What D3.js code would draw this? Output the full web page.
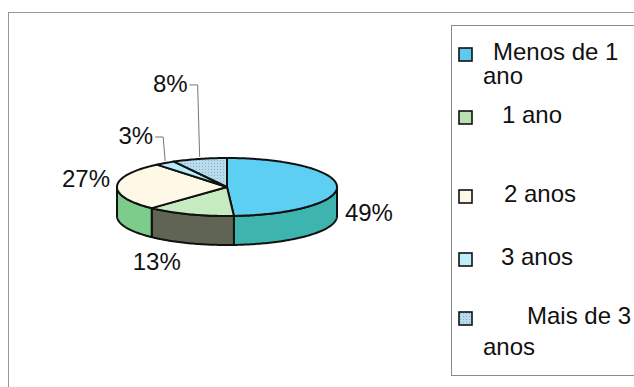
<!DOCTYPE html>
<html>
<head>
<meta charset="utf-8">
<script src="https://cdn.jsdelivr.net/npm/d3@7"></script>
<style>
  html, body { margin: 0; padding: 0; background: #fff; }
  svg { display: block; font-family: "Liberation Sans", Arial, sans-serif; }
</style>
</head>
<body>
<svg id="chart" width="634" height="387"></svg>
<script>
// Tempo de serviço: share of respondents per category
const categories = ["Menos de 1 ano", "1 ano", "2 anos", "3 anos", "Mais de 3 anos"];
const shares = [49, 13, 27, 3, 8];
const shareLabels = ["49%", "13%", "27%", "3%", "8%"];
const topColors = ["#5ccff2", "#c6ebc0", "#fdf9e6", "#b5eefa", "url(#dots)"];
const sideColors = ["#3db5ae", "#5f6552", "#7dcc8c", "#8fd6e6", "#8ab8d0"];
const swatchColors = ["#5ccaf0", "#b9e0b0", "#fdf8e8", "#bdeefa", "url(#dots)"];

const W = 634, H = 387;
const svg = d3.select("#chart");

// dotted fill used by the last category
const defs = svg.append("defs");
const pat = defs.append("pattern").attr("id", "dots")
  .attr("width", 3).attr("height", 3).attr("patternUnits", "userSpaceOnUse");
pat.append("rect").attr("width", 3).attr("height", 3).attr("fill", "#b8dcec");
pat.append("rect").attr("x", 1).attr("y", 1).attr("width", 1).attr("height", 1).attr("fill", "#86b2cc");

// chart area frame and legend frame
svg.append("rect").attr("x", 8.5).attr("y", 12.5).attr("width", W).attr("height", H)
  .attr("fill", "none").attr("stroke", "#9a9a9a").attr("stroke-width", 1);
svg.append("rect").attr("x", 451.5).attr("y", 25.5).attr("width", W).attr("height", 350)
  .attr("fill", "#fff").attr("stroke", "#8a8a8a").attr("stroke-width", 1);

// 3D pie geometry
const cx = 227, cy = 187, rx = 110, ry = 29, depth = 29;
const pt = (a, dy = 0) => [cx + rx * Math.sin(a), cy - ry * Math.cos(a) + dy];
const pie = d3.pie().sort(null).value(d => d)(shares);

function arcPoints(a0, a1, dy) {
  const n = Math.max(2, Math.ceil((a1 - a0) / 0.02));
  return d3.range(n + 1).map(i => pt(a0 + (a1 - a0) * i / n, dy));
}

const line = d3.line();
const g = svg.append("g");

// front side walls (visible between 90° and 270°)
pie.forEach((s, i) => {
  const a0 = Math.max(s.startAngle, Math.PI / 2);
  const a1 = Math.min(s.endAngle, 3 * Math.PI / 2);
  if (a1 <= a0) return;
  const pts = arcPoints(a0, a1, 0).concat(arcPoints(a0, a1, depth).reverse());
  g.append("path").attr("d", line(pts) + "Z")
    .attr("fill", sideColors[i]).attr("stroke", "#111").attr("stroke-width", 2)
    .attr("stroke-linejoin", "round");
});

// top faces
pie.forEach((s, i) => {
  const pts = [[cx, cy]].concat(arcPoints(s.startAngle, s.endAngle, 0));
  g.append("path").attr("d", line(pts) + "Z")
    .attr("fill", topColors[i]).attr("stroke", "#111").attr("stroke-width", 2)
    .attr("stroke-linejoin", "round");
});

// percentage labels
const labelFont = 24;
const nudges = [[32, 35], [-33, 56], [-31, 1]];
const leaderRise = [0, 0, 0, 26, 74];
pie.forEach((s, i) => {
  const mid = (s.startAngle + s.endAngle) / 2;
  const p = pt(mid);
  if (i < 3) {
    const [nx, ny] = nudges[i];
    svg.append("text").attr("x", p[0] + nx).attr("y", p[1] + ny)
      .attr("text-anchor", "middle").attr("font-size", labelFont).attr("fill", "#111")
      .text(shareLabels[i]);
  } else {
    const ex = p[0] - 2, ey = p[1] - leaderRise[i];
    svg.append("path")
      .attr("d", line([[p[0], p[1] - 2], [ex, ey], [ex - 8, ey]]))
      .attr("fill", "none").attr("stroke", "#777").attr("stroke-width", 1);
    svg.append("text").attr("x", ex - 10).attr("y", ey + 7)
      .attr("text-anchor", "end").attr("font-size", labelFont).attr("fill", "#111")
      .text(shareLabels[i]);
  }
});

// legend
const legendRowY = [60, 123, 202, 265, 324];
const firstLineX = [493, 502, 504, 501, 527];
const wrapAfter = ["Menos de 1", null, null, null, "Mais de 3"];
const lg = svg.append("g");
categories.forEach((c, i) => {
  const y = legendRowY[i];
  lg.append("rect").attr("x", 459).attr("y", y - 12).attr("width", 13).attr("height", 13)
    .attr("fill", swatchColors[i]).attr("stroke", "#111").attr("stroke-width", 1.6);
  const first = wrapAfter[i] || c;
  const rest = wrapAfter[i] ? c.slice(wrapAfter[i].length + 1) : null;
  lg.append("text").attr("x", firstLineX[i]).attr("y", y)
    .attr("font-size", labelFont).attr("fill", "#111").text(first);
  if (rest) {
    lg.append("text").attr("x", 483).attr("y", y + 24 + (i === 4 ? 7 : 0))
      .attr("font-size", labelFont).attr("fill", "#111").text(rest);
  }
});
</script>
</body>
</html>
